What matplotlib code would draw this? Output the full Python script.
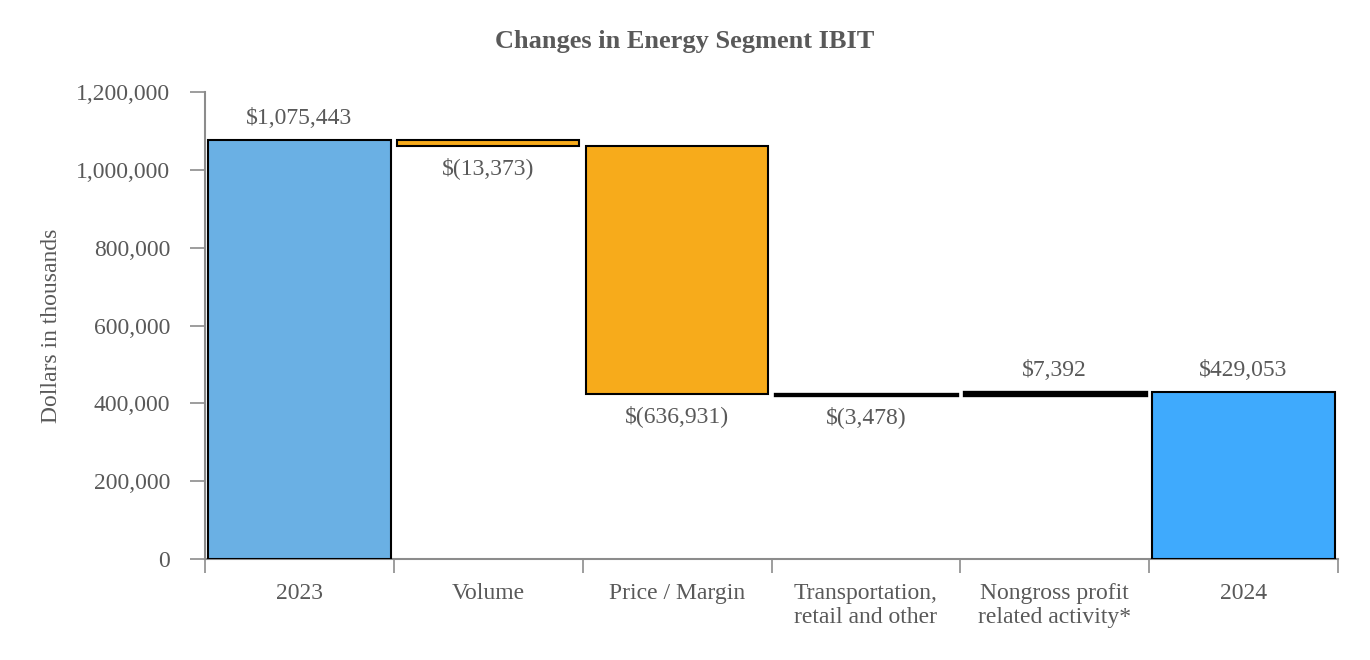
import matplotlib.pyplot as plt
from matplotlib.ticker import FuncFormatter, MultipleLocator

categories = ["2023", "Volume", "Price / Margin", "Transportation,\nretail and other",
              "Nongross profit\nrelated activity*", "2024"]
changes = [1075443, -13373, -636931, -3478, 7392, 429053]
is_total = [True, False, False, False, False, True]
labels = ["$1,075,443", "$(13,373)", "$(636,931)", "$(3,478)", "$7,392", "$429,053"]

total_colors = ["#6AB0E4", "#3FAAFD"]
down_color = "#F7AB1B"
up_color = "#F7AB1B"
grey = "#595959"

plt.rcParams['font.family'] = ['Liberation Serif', 'DejaVu Serif']

fig = plt.figure(figsize=(13.7, 6.6), dpi=100)
ax = fig.add_axes([205 / 1370, 1 - 559 / 660, 1133 / 1370, 467 / 660])

running = 0
t = 0
for i, (v, tot) in enumerate(zip(changes, is_total)):
    if tot:
        bottom, height = 0, v
        color = total_colors[t]
        t += 1
        running = v
    else:
        bottom = running
        height = v
        color = down_color if v < 0 else up_color
        running += v
    # very small changes show up only as a thick outline
    lw = 2.4 if abs(v) < 10000 else 1.5
    ax.bar(i, height, bottom=bottom, width=0.965, color=color,
           edgecolor="black", linewidth=lw, zorder=3)
    top = max(bottom, bottom + height)
    low = min(bottom, bottom + height)
    if v >= 0:
        ax.annotate(labels[i], (i, top), xytext=(0, 8), textcoords="offset points",
                    ha="center", va="bottom", fontsize=17, color=grey)
    else:
        ax.annotate(labels[i], (i, low), xytext=(0, -8), textcoords="offset points",
                    ha="center", va="top", fontsize=17, color=grey)

ax.set_xlim(-0.5, 5.5)
ax.set_ylim(0, 1200000)
ax.yaxis.set_major_locator(MultipleLocator(200000))
ax.yaxis.set_major_formatter(FuncFormatter(lambda y, p: f"{int(y):,}"))

ax.set_xticks(range(len(categories)))
ax.set_xticklabels(categories, fontsize=17, color=grey, linespacing=1.2)
ax.set_xticks([x - 0.5 for x in range(len(categories) + 1)], minor=True)
ax.tick_params(axis="x", which="major", length=0, pad=17)
ax.tick_params(axis="x", which="minor", length=10, width=1.2, color="#8c8c8c")
ax.tick_params(axis="y", labelsize=17, labelcolor=grey, length=11, width=1.2,
               color="#8c8c8c", pad=14)

for s in ["top", "right"]:
    ax.spines[s].set_visible(False)
for s in ["left", "bottom"]:
    ax.spines[s].set_color("#8c8c8c")
    ax.spines[s].set_linewidth(1.5)

ax.set_ylabel("Dollars in thousands", fontsize=17, color=grey, labelpad=10)
fig.text(0.5, 0.937, "Changes in Energy Segment IBIT", ha="center", va="center",
         fontsize=19, fontweight="bold", color=grey)

fig.savefig("out.png", dpi=100)
